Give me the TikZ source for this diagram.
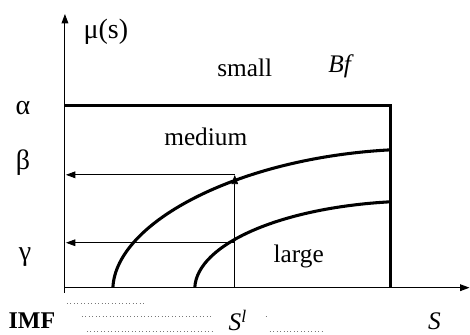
\documentclass[tikz,border=0pt]{standalone}
\usepackage{fontspec}
\setmainfont{Liberation Serif}
\usetikzlibrary{arrows.meta}
\tikzset{every picture/.style={line width=0.75pt}}

\begin{document}
\begin{tikzpicture}[x=0.75pt,y=0.75pt,yscale=-1,xscale=1,
  ptr/.style={-{Triangle[length=7pt,width=5pt]}},
  thickline/.style={line width=2.4pt},
  curveline/.style={line width=2.3pt},
  leader/.style={dotted,line width=0.6pt,color={rgb, 255:red, 120; green, 120; blue, 120 }},
  lbl/.style={inner sep=0.75pt,font=\fontsize{19}{21}\selectfont}]
%set diagram left start at 0, and has height of 335
\path (0,0) rectangle (470,335);

%Axes
\coordinate (ybot) at (65,293);
\coordinate (ytop) at (65,14);
\coordinate (o) at (65,288);
\coordinate (xend) at (470,288);
\draw [ptr] (ybot) -- (ytop);
\draw [ptr] (o) -- (xend);

%Frame of Bf
\coordinate (al) at (65,106);
\coordinate (ar) at (391,106);
\coordinate (br) at (391,288);
\draw [thickline] (al) -- (ar) -- (br);

%Curves
\coordinate (c1) at (113,288);
\coordinate (c1e) at (391,150);
\coordinate (c2) at (195,288);
\coordinate (c2e) at (391,202);
\draw [curveline] (c1) .. controls (116,222) and (240,158) .. (c1e);
\draw [curveline] (c2) .. controls (197,245) and (280,208) .. (c2e);

%Reading arrows
\coordinate (sl) at (235,288);
\coordinate (pb) at (235,175);
\coordinate (pg) at (235,243);
\coordinate (yb) at (66,175);
\coordinate (yg) at (66,243);
\draw [ptr,line width=0.6pt] (sl) -- (pb);
\draw [ptr,line width=0.6pt] (pb) -- (yb);
\draw [ptr,line width=0.6pt] (pg) -- (yg);

%Dotted leaders
\draw [leader] (67,304) -- (145,304);
\draw [leader] (82,317) -- (213,317);
\draw [leader] (87,332) -- (213,332);
\draw [leader] (266,317) -- (268,317);
\draw [leader] (270,332) -- (325,332);

% Text Node
\node (mu) [lbl,font=\fontsize{21}{23}\selectfont] at (106,32) {μ(s)};
% Text Node
\node (small) [lbl] at (245,68) {small};
% Text Node
\node (bf) [lbl] at (340,66) {\itshape Bf};
% Text Node
\node (medium) [lbl] at (206,137) {medium};
% Text Node
\node (large) [lbl] at (299,257) {large};
% Text Node
\node (alpha) [lbl,font=\fontsize{21}{23}\selectfont] at (23,108) {α};
% Text Node
\node (beta) [lbl,font=\fontsize{21}{23}\selectfont] at (23,163) {β};
% Text Node
\node (gamma) [lbl,font=\fontsize{21}{23}\selectfont] at (25,257) {γ};
% Text Node
\node (imf) [lbl,font=\fontsize{18}{20}\selectfont\bfseries] at (32,321) {IMF};
% Text Node
\node (slbl) [lbl] at (238,321) {\itshape S\textsuperscript{l}};
% Text Node
\node (s) [lbl] at (435,322) {\itshape S};

\end{tikzpicture}
\end{document}
